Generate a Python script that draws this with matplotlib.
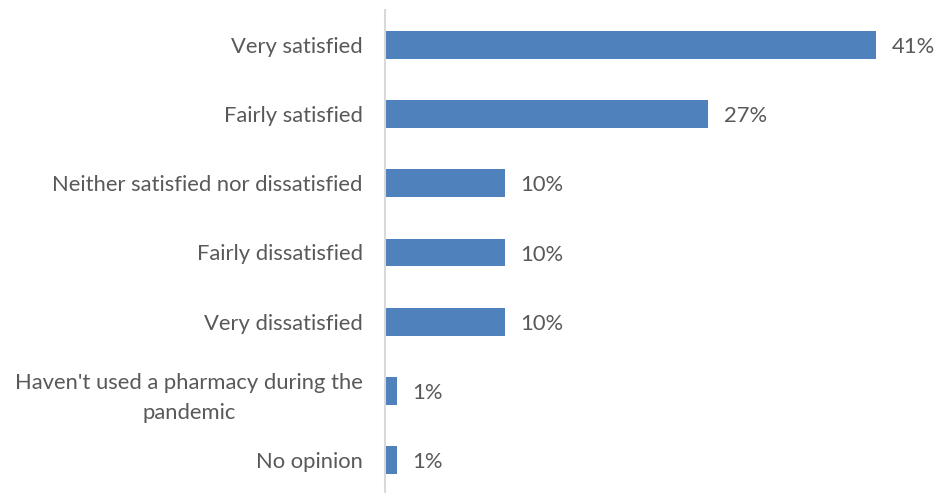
import matplotlib
matplotlib.use("Agg")
import matplotlib.pyplot as plt

# Dữ liệu
categories = [
    "Very satisfied",
    "Fairly satisfied",
    "Neither satisfied nor dissatisfied",
    "Fairly dissatisfied",
    "Very dissatisfied",
    "Haven't used a pharmacy during the\npandemic",
    "No opinion",
]
values = [41, 27, 10, 10, 10, 1, 1]

text_color = "#595959"
bar_color = "#4F81BD"
font = "Lato"

fig = plt.figure(figsize=(9.36, 4.93), dpi=100)
ax = fig.add_axes([385 / 936, -2 / 493, 539 / 936, 485 / 493])

y = range(len(categories))
ax.barh(y, values, height=0.4, color=bar_color)

for i, v in zip(y, values):
    ax.text(v + 1.3, i + 0.03, f"{v}%", va="center", ha="left",
            fontsize=15.8, color=text_color, family=font)

ax.set_xlim(0, 45)
ax.set_ylim(6.5, -0.5)
ax.set_yticks(list(y))
ax.set_yticklabels(categories, fontsize=15.8, color=text_color,
                   family=font, multialignment="center", linespacing=1.6)
ax.tick_params(axis="y", length=0, pad=16)
ax.set_xticks([])

for side in ["top", "right", "bottom"]:
    ax.spines[side].set_visible(False)
ax.spines["left"].set_color("#D9D9D9")
ax.spines["left"].set_linewidth(1.5)

fig.savefig("out.png", dpi=100)
